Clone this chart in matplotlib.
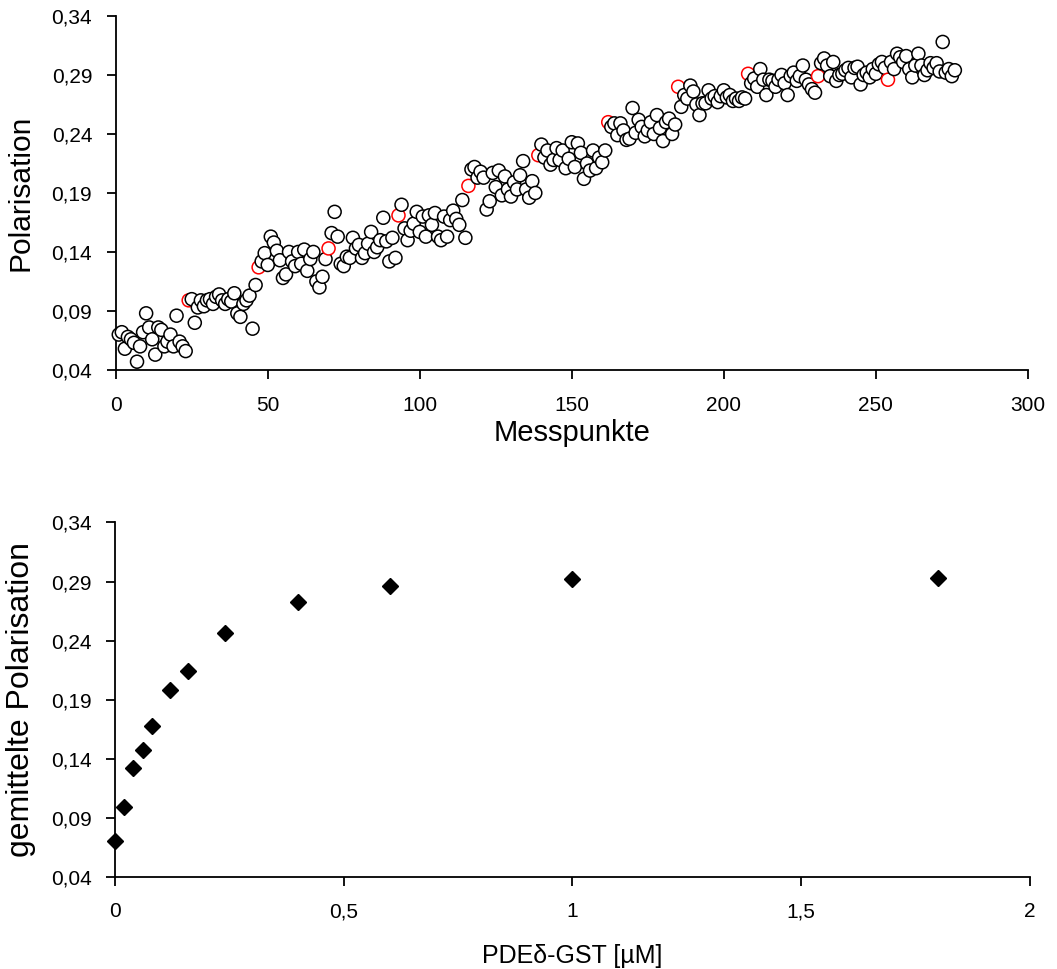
import matplotlib
matplotlib.use("Agg")
import matplotlib.pyplot as plt
import numpy as np

plt.rcParams['font.family'] = ['Liberation Sans', 'DejaVu Sans']

# Einzelmessungen (Messpunkte 1..276), 12 Konzentrationen a 23 Punkte
polarisation = [
    # 0 uM
    0.070, 0.072, 0.058, 0.068, 0.066, 0.063, 0.047, 0.060, 0.072, 0.088, 0.076, 0.066,
    0.053, 0.076, 0.074, 0.060, 0.064, 0.070, 0.060, 0.086, 0.064, 0.060, 0.056,
    # 0,02 uM
    0.099, 0.100, 0.080, 0.093, 0.099, 0.094, 0.099, 0.100, 0.096, 0.102, 0.104, 0.099,
    0.096, 0.100, 0.098, 0.105, 0.088, 0.085, 0.096, 0.099, 0.103, 0.075, 0.112,
    # 0,04 uM
    0.127, 0.132, 0.139, 0.129, 0.153, 0.148, 0.141, 0.133, 0.118, 0.121, 0.140, 0.132,
    0.128, 0.140, 0.130, 0.142, 0.124, 0.134, 0.140, 0.115, 0.110, 0.119, 0.134,
    # 0,06 uM
    0.143, 0.156, 0.174, 0.153, 0.130, 0.128, 0.136, 0.135, 0.152, 0.143, 0.146, 0.135,
    0.139, 0.147, 0.157, 0.140, 0.144, 0.150, 0.169, 0.149, 0.132, 0.152, 0.135,
    # 0,08 uM
    0.171, 0.180, 0.160, 0.150, 0.158, 0.164, 0.174, 0.157, 0.170, 0.153, 0.171, 0.163,
    0.173, 0.153, 0.150, 0.170, 0.153, 0.167, 0.175, 0.168, 0.163, 0.184, 0.152,
    # 0,12 uM
    0.196, 0.210, 0.212, 0.203, 0.208, 0.203, 0.176, 0.183, 0.207, 0.195, 0.209, 0.188,
    0.204, 0.193, 0.187, 0.199, 0.193, 0.205, 0.217, 0.193, 0.186, 0.200, 0.190,
    # 0,16 uM
    0.222, 0.231, 0.220, 0.226, 0.214, 0.218, 0.228, 0.218, 0.226, 0.211, 0.219, 0.233,
    0.212, 0.232, 0.224, 0.202, 0.215, 0.209, 0.226, 0.211, 0.220, 0.216, 0.226,
    # 0,24 uM
    0.250, 0.246, 0.249, 0.239, 0.249, 0.243, 0.235, 0.236, 0.262, 0.241, 0.252, 0.246,
    0.238, 0.243, 0.250, 0.240, 0.256, 0.245, 0.234, 0.250, 0.253, 0.240, 0.248,
    # 0,4 uM
    0.280, 0.263, 0.273, 0.270, 0.281, 0.276, 0.265, 0.256, 0.266, 0.266, 0.277, 0.270,
    0.272, 0.267, 0.272, 0.277, 0.271, 0.273, 0.268, 0.270, 0.268, 0.271, 0.270,
    # 0,6 uM
    0.291, 0.283, 0.287, 0.280, 0.295, 0.286, 0.273, 0.286, 0.285, 0.280, 0.286, 0.290,
    0.283, 0.273, 0.289, 0.292, 0.285, 0.289, 0.298, 0.286, 0.282, 0.278, 0.275,
    # 1 uM
    0.289, 0.300, 0.304, 0.298, 0.289, 0.301, 0.285, 0.290, 0.291, 0.294, 0.296, 0.288,
    0.296, 0.297, 0.282, 0.290, 0.292, 0.288, 0.295, 0.291, 0.299, 0.301, 0.296,
    # 1,8 uM
    0.286, 0.301, 0.295, 0.308, 0.305, 0.301, 0.306, 0.295, 0.288, 0.298, 0.308, 0.298,
    0.290, 0.294, 0.300, 0.296, 0.300, 0.293, 0.318, 0.292, 0.295, 0.289, 0.294,
]
# erste Messung nach Zugabe (rot markiert)
zugabe_punkte = [24, 47, 70, 93, 116, 139, 162, 185, 208, 231, 254]

konzentration = [0, 0.02, 0.04, 0.06, 0.08, 0.12, 0.16, 0.24, 0.4, 0.6, 1.0, 1.8]
mittel_polarisation = [0.070, 0.099, 0.132, 0.147, 0.168, 0.198, 0.214, 0.246, 0.273,
                       0.286, 0.292, 0.293]

y_ticks = [0.04, 0.09, 0.14, 0.19, 0.24, 0.29, 0.34]
y_ticklabels = ['0,04', '0,09', '0,14', '0,19', '0,24', '0,29', '0,34']
x1_ticks = [0, 50, 100, 150, 200, 250, 300]
x2_ticks = [0, 0.5, 1, 1.5, 2]
x2_ticklabels = ['0', '0,5', '1', '1,5', '2']


def style_axis(ax, xpad):
    ax.spines['top'].set_visible(False)
    ax.spines['right'].set_visible(False)
    for s in ['left', 'bottom']:
        ax.spines[s].set_linewidth(1.3)
    ax.set_ylim(0.04, 0.34)
    ax.set_yticks(y_ticks)
    ax.set_yticklabels(y_ticklabels)
    ax.tick_params(axis='both', direction='out', length=6.5, width=1.3, labelsize=15)
    ax.tick_params(axis='y', pad=10.5)
    ax.tick_params(axis='x', pad=xpad)


fig = plt.figure(figsize=(10.57, 9.69), dpi=100)

# oben: Einzelmessungen
ax1 = fig.add_axes([0.1095, 0.6182, 0.8629, 0.3653])
messpunkte = np.arange(1, len(polarisation) + 1)
edge = ['red' if m in zugabe_punkte else 'black' for m in messpunkte]
ax1.scatter(messpunkte, polarisation, s=88, facecolors='white', edgecolors=edge,
            linewidths=1.1, clip_on=False, zorder=3)
ax1.set_xlim(0, 300)
ax1.set_xticks(x1_ticks)
style_axis(ax1, 12)
ax1.set_xlabel('Messpunkte', fontsize=21, labelpad=3)
ax1.set_ylabel('Polarisation', fontsize=21.5, labelpad=12)

# unten: Mittelwerte
ax2 = fig.add_axes([0.109, 0.0953, 0.865, 0.3655])
ax2.plot(konzentration, mittel_polarisation, linestyle='none', marker='D', ms=8,
         color='black', clip_on=False, zorder=3)
ax2.set_xlim(0, 2)
ax2.set_xticks(x2_ticks)
ax2.set_xticklabels(x2_ticklabels)
style_axis(ax2, 12)
ax2.set_xlabel('PDE\u03b4-GST [\u00b5M]', fontsize=18, labelpad=16)
ax2.set_ylabel('gemittelte Polarisation', fontsize=23, labelpad=11)

plt.savefig('out.png', dpi=100)
